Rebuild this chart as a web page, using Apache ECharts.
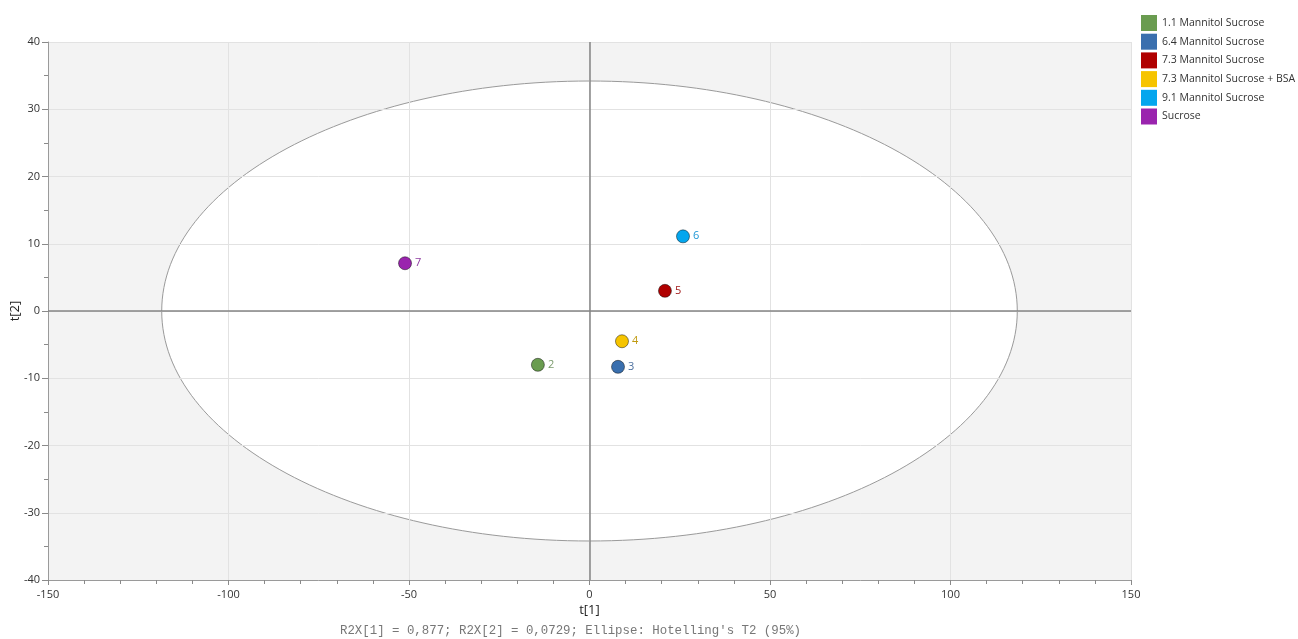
<!DOCTYPE html>
<html>
<head>
<meta charset="utf-8">
<script src="https://cdn.jsdelivr.net/npm/echarts@6/dist/echarts.min.js"></script>
<style>
  html, body { margin: 0; padding: 0; background: #fff; }
  #chart { width: 1298px; height: 639px; }
</style>
</head>
<body>
<div id="chart"></div>
<script>
  // score plot data, t[1] / t[2]
  var groups = ['1.1 Mannitol Sucrose', '6.4 Mannitol Sucrose', '7.3 Mannitol Sucrose',
    '7.3 Mannitol Sucrose + BSA', '9.1 Mannitol Sucrose', 'Sucrose']
  var obsIds = [2, 3, 5, 4, 6, 7]
  var t1 = [-14.3, 7.9, 20.9, 9.0, 25.9, -51.1]
  var t2 = [-8.0, -8.3, 3.0, -4.5, 11.1, 7.1]
  var colors = ['#6a9c50', '#3a6fae', '#b00000', '#f6c400', '#04a6ee', '#9a24ae']
  var labelColors = ['#7a9a6c', '#4a6e9e', '#a01818', '#c09a10', '#1d97d6', '#8e3aa0']

  // Hotelling's T2 (95%) ellipse, semi axes in t[1]/t[2] units
  var ellipseCenter = [0, 0]
  var ellipseRadii = [118.5, 34.2]

  var xTicks = { min: -150, max: 150, interval: 50 }
  var yTicks = { min: -40, max: 40, interval: 10 }

  var chart = echarts.init(document.getElementById('chart'))

  var series = groups.map(function(name, i) {
    return {
      name: name,
      type: 'scatter',
      z: 6,
      symbolSize: 13,
      itemStyle: {
        color: colors[i],
        opacity: 1,
        borderColor: 'rgba(0,0,0,0.45)',
        borderWidth: 1
      },
      label: {
        show: true,
        position: 'right',
        distance: 3,
        formatter: '{@[2]}',
        color: labelColors[i],
        fontFamily: 'Open Sans',
        fontSize: 11
      },
      data: [[t1[i], t2[i], obsIds[i]]]
    }
  })

  series.unshift({
    name: 'ellipse',
    type: 'custom',
    z: 2,
    silent: true,
    renderItem: function(params, api) {
      var c = api.coord([api.value(0), api.value(1)])
      var s = api.size([api.value(2), api.value(3)])
      return {
        type: 'ellipse',
        shape: { cx: c[0], cy: c[1], rx: s[0], ry: s[1] },
        style: { fill: '#ffffff', stroke: '#9a9a9a', lineWidth: 1 }
      }
    },
    data: [[ellipseCenter[0], ellipseCenter[1], ellipseRadii[0], ellipseRadii[1]]],
    markLine: {
      silent: true,
      symbol: 'none',
      label: { show: false },
      lineStyle: { color: '#858585', width: 1.5, type: 'solid' },
      data: [{ xAxis: 0 }, { yAxis: 0 }]
    }
  })

  chart.setOption({
    animation: false,
    textStyle: { fontFamily: 'Open Sans' },
    grid: {
      left: 48,
      right: 167,
      top: 42,
      bottom: 59,
      outerBoundsMode: 'none',
      containLabel: false,
      show: true,
      backgroundColor: '#f3f3f3',
      borderWidth: 0
    },
    legend: {
      orient: 'vertical',
      left: 1141,
      top: 15,
      padding: 0,
      icon: 'rect',
      itemWidth: 16,
      itemHeight: 16,
      itemGap: 2.7,
      itemTextGap: 3,
      itemStyle: { borderWidth: 0, opacity: 1 },
      textStyle: { fontSize: 10.5, color: '#333' },
      data: groups
    },
    xAxis: {
      type: 'value',
      z: 3,
      min: xTicks.min,
      max: xTicks.max,
      interval: xTicks.interval,
      name: 't[1]',
      nameLocation: 'middle',
      nameGap: 24,
      nameMoveOverlap: false,
      nameTextStyle: { fontSize: 13, color: '#222' },
      axisLine: { onZero: false, lineStyle: { color: '#9a9a9a' } },
      axisTick: { show: true, length: 5, lineStyle: { color: '#8a8a8a' } },
      minorTick: { show: true, splitNumber: 5, length: 4, lineStyle: { color: '#8a8a8a' } },
      axisLabel: { fontSize: 11, color: '#333', margin: 9 },
      splitLine: { show: true, lineStyle: { color: '#e2e2e2', width: 1 } }
    },
    yAxis: {
      type: 'value',
      z: 3,
      min: yTicks.min,
      max: yTicks.max,
      interval: yTicks.interval,
      name: 't[2]',
      nameLocation: 'middle',
      nameGap: 26,
      nameMoveOverlap: false,
      nameTextStyle: { fontSize: 13, color: '#222' },
      axisLine: { show: true, onZero: false, lineStyle: { color: '#9a9a9a' } },
      axisTick: { show: true, length: 6, lineStyle: { color: '#8a8a8a' } },
      minorTick: { show: true, splitNumber: 2, length: 4, lineStyle: { color: '#8a8a8a' } },
      axisLabel: { fontSize: 11, color: '#333', margin: 8 },
      splitLine: { show: true, lineStyle: { color: '#e2e2e2', width: 1 } }
    },
    graphic: [{
      type: 'text',
      left: 340,
      top: 625,
      style: {
        text: "R2X[1] = 0,877; R2X[2] = 0,0729; Ellipse: Hotelling's T2 (95%)",
        fontFamily: 'Liberation Mono',
        fontSize: 12.4,
        fill: '#777'
      }
    }],
    series: series
  })
</script>
</body>
</html>
